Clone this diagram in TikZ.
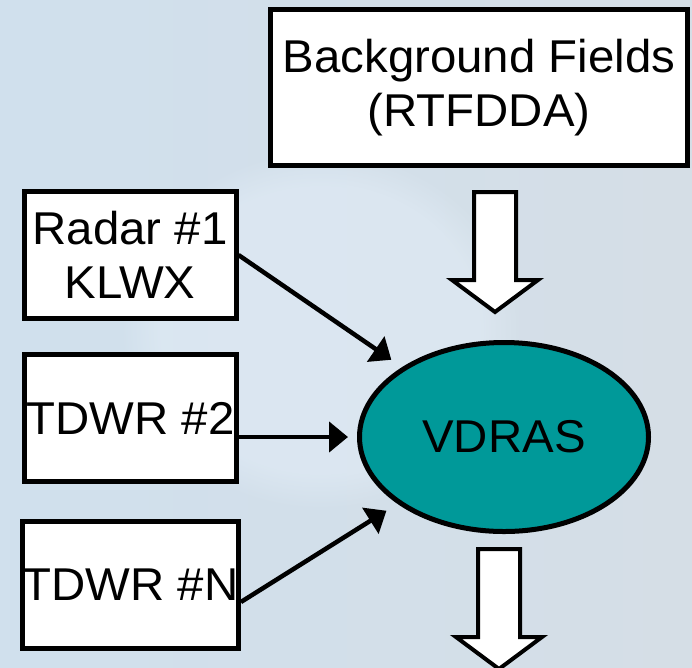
\documentclass[tikz,border=0pt]{standalone}
\usepackage{fontspec}
\setmainfont{Liberation Sans}[FakeStretch=1.03]
\usetikzlibrary{arrows.meta,shapes.geometric,fadings}
\definecolor{skyL}{RGB}{208,224,237}
\definecolor{skyM}{RGB}{223,235,246}
\definecolor{skyR}{RGB}{213,222,230}
\definecolor{skyGlow}{RGB}{228,238,248}
\definecolor{vdteal}{RGB}{0,153,153}
\tikzset{
  lbl/.style={font=\fontsize{46}{54}\selectfont, align=center, inner sep=0pt},
  srcbox/.style={lbl, draw=black, line width=5pt, fill=white,
    minimum width=212pt, minimum height=127pt},
  feed/.style={line width=4.5pt, -{Triangle[length=19pt,width=30pt]}},
  pics/fatdown/.style={code={
    \draw[line width=4pt, fill=white, line join=miter]
      (-21,0) -- (21,0) -- (21,88) -- (43,88) -- (0,120)
      -- (-43,88) -- (-21,88) -- cycle;}}
}
\begin{document}
\begin{tikzpicture}[x=1pt,y=-1pt]
  % sky backdrop
  \useasboundingbox (0,0) rectangle (692,667);
  \shade[left color=skyL, middle color=skyM, right color=skyR]
    (0,0) rectangle (692,667);
  \fill[skyGlow, opacity=0.5, path fading=circle with fuzzy edge 20 percent]
    (320,330) ellipse (200 and 180);

  % inputs
  \node[srcbox, minimum width=417pt, minimum height=156pt] (bg) at (479,87.5)
    {Background Fields\\(RTFDDA)};
  \node[srcbox] (r1) at (130,255) {Radar \#1\\KLWX};
  \node[srcbox] (r2) at (130.5,418) {TDWR \#2};
  \node[srcbox] (r3) at (130.5,585) {TDWR \#N};

  % analysis system
  \node[lbl, ellipse, draw=black, line width=5pt, fill=vdteal,
    minimum width=289pt, minimum height=189pt] (vd) at (504,437) {VDRAS};

  % radar feeds
  \draw[feed, shorten >=13pt] (r1.east) -- (vd);
  \draw[feed, shorten >=9pt] (r2.east |- vd) -- (vd);
  \draw[feed, shorten >=13pt] ([yshift=-17pt]r3.east) -- (vd);

  % background field input and output
  \pic at (495,192) {fatdown};
  \pic at (499,549) {fatdown};
\end{tikzpicture}
\end{document}
